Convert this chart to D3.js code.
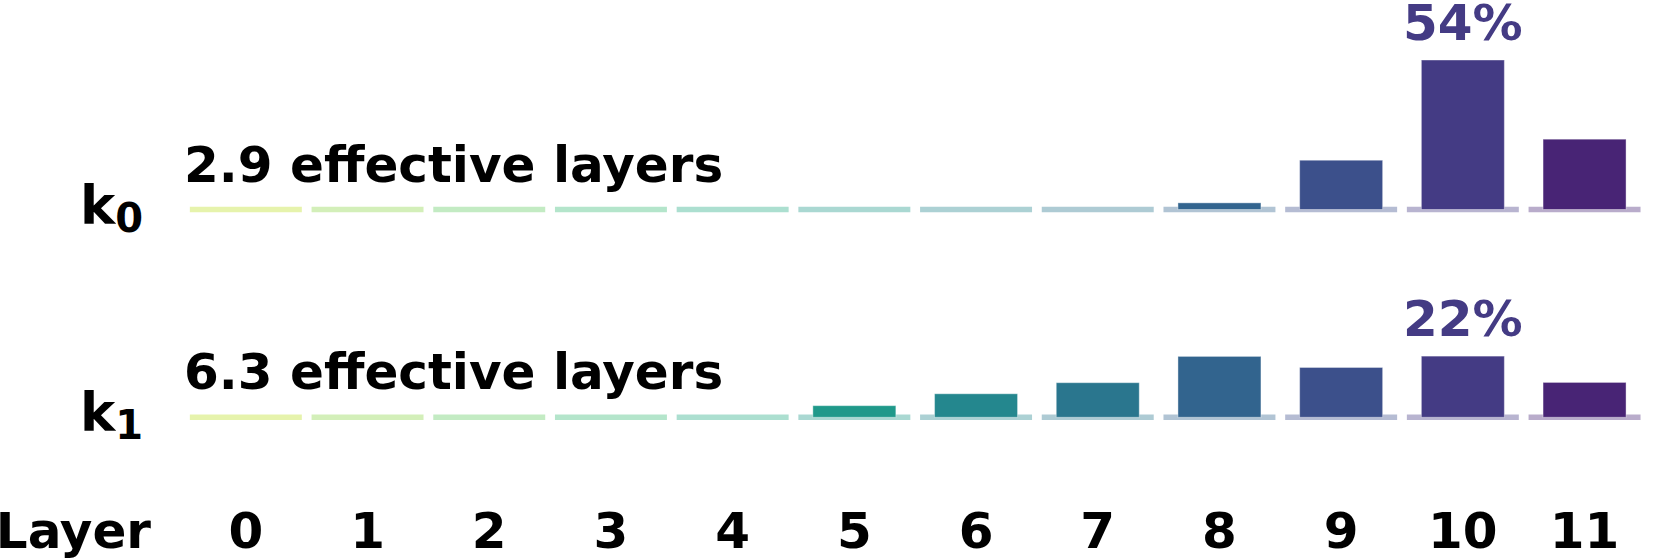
<!DOCTYPE html>
<html>
  <head>
    <meta charset="utf-8">
    <title>Effective layers</title>
    <script src="https://cdn.jsdelivr.net/npm/d3@7"></script>
    <style>
    html,
    body {
        margin: 0;
        padding: 0;
        background: #ffffff;
    }
    #vis text {
        font-family: 'DejaVu Sans';
        font-weight: bold;
    }
    </style>
  </head>

  <body>
    <div id='vis'></div>
    <script>

      // layer indices and share of weight per layer (%)
      var layers = [0, 1, 2, 3, 4, 5, 6, 7, 8, 9, 10, 11];
      var rowNames = ['0', '1'];
      var k0Share = [0, 0, 0, 0, 0, 0, 0, 0, 2.4, 17.8, 54.0, 25.4];
      var k1Share = [0, 0, 0, 0, 0, 4.2, 8.5, 12.5, 22.0, 18.0, 22.1, 12.6];
      var effLayers = [2.9, 6.3];

      var width = 1656;
      var height = 560;
      var rowBase = [209.5, 417.3];

      var svg = d3.select('#vis')
          .append('svg')
          .attr('width', width)
          .attr('height', height);

      var x = d3.scaleBand()
          .domain(layers)
          .range([185, 1645.4]);

      var h = d3.scaleLinear()
          .domain([0, 54])
          .range([0, 149.5]);

      var color = function(i) {
        return d3.interpolateViridis(0.9 - i * 0.8 / 11);
      };

      var bw = x.bandwidth();

      function drawRow(g, shares, base, eff, name) {

          // pale base segment under every layer
          g.selectAll('line.seg')
              .data(layers)
              .enter()
              .append('line')
              .attr('class', 'seg')
              .attr('x1', function(d) { return x(d) + bw * 0.04; })
              .attr('x2', function(d) { return x(d) + bw * 0.96; })
              .attr('y1', base)
              .attr('y2', base)
              .style('stroke', function(d) { return color(d); })
              .style('stroke-opacity', 0.38)
              .style('stroke-width', 5.5);

          g.selectAll('rect.bar')
              .data(layers.filter(function(d) { return shares[d] > 0; }))
              .enter()
              .append('rect')
              .attr('class', 'bar')
              .attr('x', function(d) { return x(d) + bw * 0.159; })
              .attr('width', bw * 0.682)
              .attr('y', function(d) { return base - h(shares[d]); })
              .attr('height', function(d) { return h(shares[d]); })
              .style('fill', function(d) { return color(d); })
              .style('stroke', '#ffffff')
              .style('stroke-opacity', 0.4)
              .style('stroke-width', 1);

          // label over the largest bar
          var top = d3.maxIndex(shares);
          g.append('text')
              .attr('x', x(top) + bw / 2)
              .attr('y', base - h(shares[top]) - 20)
              .attr('text-anchor', 'middle')
              .style('font-size', '50px')
              .style('fill', color(top))
              .text(Math.round(shares[top]) + '%');

          g.append('text')
              .attr('x', 184)
              .attr('y', base - 28)
              .style('font-size', '50px')
              .style('fill', '#000000')
              .text(eff + ' effective layers');

          var k = g.append('text')
              .attr('x', 80)
              .attr('y', base + 14)
              .style('font-size', '53px')
              .style('fill', '#000000');
          k.append('tspan').text('k');
          k.append('tspan')
              .attr('dy', 8)
              .style('font-size', '40px')
              .text(name);
      }

      drawRow(svg.append('g'), k0Share, rowBase[0], effLayers[0], rowNames[0]);
      drawRow(svg.append('g'), k1Share, rowBase[1], effLayers[1], rowNames[1]);

      // layer axis along the bottom
      svg.append('text')
          .attr('x', 151)
          .attr('y', 548)
          .attr('text-anchor', 'end')
          .style('font-size', '50px')
          .text('Layer');

      svg.selectAll('text.tick')
          .data(layers)
          .enter()
          .append('text')
          .attr('class', 'tick')
          .attr('x', function(d) { return x(d) + bw / 2; })
          .attr('y', 548)
          .attr('text-anchor', 'middle')
          .style('font-size', '50px')
          .text(function(d) { return d; });

    </script>
  </body>
</html>
